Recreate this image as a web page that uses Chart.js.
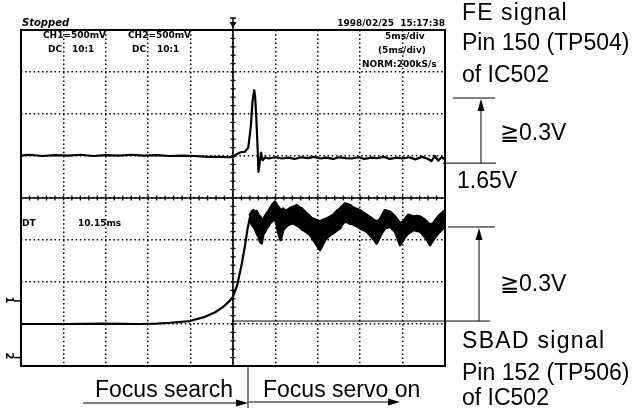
<!DOCTYPE html>
<html>
<head>
<meta charset="utf-8">
<script src="https://cdn.jsdelivr.net/npm/chart.js@4"></script>
<style>
  html, body { margin: 0; padding: 0; background: #fff; }
  #wrap { position: relative; width: 634px; height: 408px; overflow: hidden; }
  canvas { position: absolute; left: 0; top: 0; }
  .t { position: absolute; white-space: nowrap; line-height: 1; color: #000; }
  .big { font-family: "Liberation Sans", Arial, sans-serif; font-size: 23px; }
  .scope { font-family: "DejaVu Sans", sans-serif; font-weight: bold; font-size: 9px; }
  .ch { font-family: "DejaVu Sans", sans-serif; font-weight: bold; font-size: 10px; transform: rotate(90deg); }
</style>
</head>
<body>
<div id="wrap">
  <canvas id="scope" width="634" height="408"></canvas>

  <!-- scope header -->
  <div class="t scope" style="left:22px;top:18px;font-size:10px;font-style:italic;">Stopped</div>
  <div class="t scope" style="right:189px;top:19px;">1998/02/25&nbsp;&nbsp;15:17:38</div>
  <div class="t scope" style="left:43px;top:31px;">CH1=500mV</div>
  <div class="t scope" style="left:48px;top:45px;">DC</div>
  <div class="t scope" style="left:72px;top:45px;">10:1</div>
  <div class="t scope" style="left:128px;top:31px;">CH2=500mV</div>
  <div class="t scope" style="left:132px;top:45px;">DC</div>
  <div class="t scope" style="left:157px;top:45px;">10:1</div>
  <div class="t scope" style="left:385px;top:32px;">5ms/div</div>
  <div class="t scope" style="left:378px;top:46px;">(5ms/div)</div>
  <div class="t scope" style="left:362px;top:60px;">NORM:200kS/s</div>
  <div class="t scope" style="left:22px;top:219px;">DT</div>
  <div class="t scope" style="left:78px;top:219px;">10.15ms</div>
  <div class="t ch" style="left:6px;top:295px;">1</div>
  <div class="t ch" style="left:6px;top:351px;">2</div>

  <!-- right-hand annotations -->
  <div class="t big" style="left:462px;top:1px;letter-spacing:1.1px;">FE signal</div>
  <div class="t big" style="left:462px;top:31px;">Pin 150 (TP504)</div>
  <div class="t big" style="left:462px;top:63px;">of IC502</div>
  <div class="t big" style="left:500px;top:121px;">≧0.3V</div>
  <div class="t big" style="left:457px;top:169px;">1.65V</div>
  <div class="t big" style="left:500px;top:272px;">≧0.3V</div>
  <div class="t big" style="left:462px;top:329px;letter-spacing:1.3px;">SBAD signal</div>
  <div class="t big" style="left:462px;top:361px;">Pin 152 (TP506)</div>
  <div class="t big" style="left:462px;top:386px;">of IC502</div>

  <!-- bottom labels -->
  <div class="t big" style="left:95px;top:378px;">Focus search</div>
  <div class="t big" style="left:263px;top:378px;">Focus servo on</div>
</div>

<script>
// ── Scope settings: time in ms (5 ms/div), level in divisions ──
const timeRangeMs = [-25, 25];
const levelRangeDiv = [-4, 4];
const timeStepMs = 5;
const levelStepDiv = 1;

// ── CH1: FE signal ──
const feTimeMs = [
  -25, -24, -22.5, -21, -19.5, -18, -16.5, -15, -13.5, -12,
  -10.5, -9, -7.5, -6, -4.5, -3, -1.5, -0.5, 0, 0.4,
  0.9, 1.4, 1.8, 2.1, 2.3, 2.5, 2.6, 2.75, 2.9, 3.0,
  3.15, 3.3, 3.5, 3.8, 4.2, 5, 5.8, 6.5, 7.3, 8,
  8.8, 9.5, 10.3, 11, 11.8, 12.5, 13.3, 14, 14.8, 15.5,
  16.3, 17, 17.8, 18.5, 19.3, 20, 20.8, 21.5, 22.3, 23,
  23.4, 23.8, 24.2, 24.6, 25
];
const feLevelDiv = [
  1.01, 1.03, 1.00, 1.02, 1.01, 1.03, 1.00, 1.02, 1.01, 1.03,
  1.01, 1.02, 1.00, 1.01, 1.00, 0.98, 0.98, 0.97, 0.98, 1.04,
  1.09, 1.10, 1.20, 1.70, 2.30, 2.57, 2.45, 1.90, 1.20, 0.62,
  0.85, 1.08, 0.90, 0.97, 0.94, 0.97, 0.94, 0.96, 0.93, 0.97,
  0.95, 0.98, 0.94, 0.96, 0.93, 0.97, 0.95, 0.94, 0.97, 0.93,
  0.96, 0.95, 0.98, 0.93, 0.96, 0.94, 0.97, 0.92, 0.98, 0.93,
  0.88, 1.00, 0.89, 0.97, 0.92
];

// ── CH2: SBAD signal, slow rise before servo locks ──
const sbadRiseTimeMs = [-25, -20, -15, -11, -9, -7.4, -5.1, -3.3, -2.1, -1.2, -0.4, 0, 0.5, 1.0, 1.4, 1.7, 2.0, 2.3];
const sbadRiseLevelDiv = [-3.0, -3.0, -2.99, -3.0, -2.99, -2.97, -2.93, -2.83, -2.72, -2.6, -2.45, -2.35, -2.07, -1.6, -1.15, -0.75, -0.45, -0.32];

// ── CH2: noisy band after focus servo on (upper / lower envelope) ──
const sbadBandTimeMs = [
  2.0, 2.2, 2.4, 2.6, 2.79, 3.0, 3.18, 3.38, 3.58, 3.8,
  3.97, 4.2, 4.36, 4.65, 4.95, 5.15, 5.35, 5.62, 5.93, 6.2,
  6.52, 6.8, 7.11, 7.51, 7.8, 8.10, 8.4, 8.69, 9.0, 9.27,
  9.55, 9.86, 10.26, 10.65, 10.95, 11.24, 11.55, 11.83, 12.2, 12.62,
  12.9, 13.20, 13.5, 13.79, 14.1, 14.38, 14.7, 14.97, 15.35, 15.76,
  16.05, 16.35, 16.65, 16.94, 17.33, 17.6, 17.92, 18.2, 18.51, 18.8,
  19.10, 19.4, 19.69, 20.08, 20.4, 20.67, 21.0, 21.26, 21.65, 22.05,
  22.35, 22.64, 22.95, 23.23, 23.62, 23.9, 24.21, 24.5, 24.80, 25.0
];
const sbadBandUpperDiv = [
  -0.40, -0.33, -0.29, -0.34, -0.31, -0.40, -0.44, -0.50, -0.52, -0.42,
  -0.37, -0.30, -0.25, -0.15, -0.09, -0.16, -0.21, -0.29, -0.25, -0.31,
  -0.27, -0.23, -0.21, -0.17, -0.22, -0.25, -0.31, -0.37, -0.42, -0.48,
  -0.50, -0.53, -0.56, -0.52, -0.50, -0.47, -0.43, -0.40, -0.32, -0.25,
  -0.19, -0.13, -0.15, -0.17, -0.22, -0.25, -0.27, -0.29, -0.35, -0.40,
  -0.44, -0.48, -0.53, -0.56, -0.51, -0.40, -0.29, -0.31, -0.33, -0.38,
  -0.44, -0.52, -0.60, -0.56, -0.47, -0.40, -0.42, -0.44, -0.43, -0.44,
  -0.48, -0.52, -0.58, -0.64, -0.60, -0.52, -0.44, -0.38, -0.33, -0.29
];
const sbadBandLowerDiv = [
  -0.56, -0.62, -0.68, -0.74, -0.84, -0.92, -1.04, -1.08, -0.86, -0.80,
  -0.72, -0.66, -0.60, -0.55, -0.48, -0.66, -0.84, -1.00, -0.76, -0.70,
  -0.64, -0.62, -0.60, -0.65, -0.68, -0.74, -0.78, -0.82, -0.86, -0.93,
  -1.02, -1.12, -1.24, -1.08, -0.98, -0.92, -0.87, -0.84, -0.78, -0.72,
  -0.62, -0.56, -0.58, -0.61, -0.62, -0.65, -0.68, -0.72, -0.76, -0.80,
  -0.86, -0.93, -1.00, -1.08, -0.92, -0.82, -0.72, -0.70, -0.68, -0.74,
  -0.80, -0.95, -1.12, -1.00, -0.90, -0.84, -0.80, -0.76, -0.78, -0.80,
  -0.86, -0.93, -1.02, -1.12, -1.00, -0.92, -0.84, -0.78, -0.72, -0.68
];

// ── Annotation levels (div): FE ≥0.3V top, 1.65V, SBAD ≥0.3V top, SBAD base ──
const annotLevelsDiv = [2.38, 0.83, -0.69, -2.93];
const focusServoOnMs = 1.77;

const toPoints = (xs, ys) => xs.map((x, i) => ({ x, y: ys[i] }));

// ── Drawing helpers ──
function line(ctx, x1, y1, x2, y2) {
  ctx.beginPath();
  ctx.moveTo(x1, y1);
  ctx.lineTo(x2, y2);
  ctx.stroke();
}
function arrowHead(ctx, tipX, tipY, dir) {
  // dir: 'up' or 'right'
  ctx.beginPath();
  if (dir === 'up') {
    ctx.moveTo(tipX, tipY);
    ctx.lineTo(tipX - 3.5, tipY + 12);
    ctx.lineTo(tipX + 3.5, tipY + 12);
  } else {
    ctx.moveTo(tipX, tipY);
    ctx.lineTo(tipX - 12, tipY - 3.5);
    ctx.lineTo(tipX - 12, tipY + 3.5);
  }
  ctx.closePath();
  ctx.fill();
}

const scopeDecor = {
  id: 'scopeDecor',
  afterDraw(chart) {
    const { ctx, chartArea: a, scales: { x, y } } = chart;
    ctx.save();
    ctx.strokeStyle = '#000';
    ctx.fillStyle = '#000';

    // center graticule with minor ticks (1/5 div)
    const x0 = x.getPixelForValue(0);
    const y0 = y.getPixelForValue(0);
    ctx.lineWidth = 1.6;
    line(ctx, x0, a.top, x0, a.bottom);
    line(ctx, a.left, y0, a.right, y0);
    ctx.lineWidth = 1.3;
    for (let t = timeRangeMs[0]; t <= timeRangeMs[1]; t += 1) {
      const px = x.getPixelForValue(t);
      line(ctx, px, y0 - 2.5, px, y0 + 2.5);
    }
    for (let k = 0; k <= 40; k++) {
      const py = y.getPixelForValue(levelRangeDiv[0] + k * 0.2);
      line(ctx, x0 - 2.5, py, x0 + 2.5, py);
    }

    // frame
    ctx.lineWidth = 2;
    ctx.strokeRect(a.left, a.top, a.right - a.left, a.bottom - a.top);

    // trigger marker
    ctx.lineWidth = 1.5;
    line(ctx, x0, a.top - 12, x0, a.top);
    line(ctx, x0 - 3, a.top - 12, x0 + 3, a.top - 12);
    ctx.beginPath();
    ctx.moveTo(x0 - 3.5, a.top - 8);
    ctx.lineTo(x0 + 3.5, a.top - 8);
    ctx.lineTo(x0, a.top - 2);
    ctx.closePath();
    ctx.fill();

    // channel markers
    ctx.lineWidth = 1.5;
    [y.getPixelForValue(-2.45), y.getPixelForValue(-3.8)].forEach(py => {
      line(ctx, 14, py, a.left - 1, py);
    });

    // right-hand level lines and arrows
    const ly = annotLevelsDiv.map(v => y.getPixelForValue(v));
    ctx.lineWidth = 1;
    line(ctx, 453, ly[0], 495, ly[0]);
    line(ctx, 443, ly[1], 496, ly[1]);
    line(ctx, 448, ly[2], 495, ly[2]);
    line(ctx, x0, ly[3], 490, ly[3]);
    line(ctx, 481, ly[1], 481, ly[0] + 6);
    arrowHead(ctx, 481, ly[0] + 1, 'up');
    line(ctx, 479, ly[3], 479, ly[2] + 6);
    arrowHead(ctx, 479, ly[2] + 1, 'up');

    // focus search / servo on arrows
    const xs = x.getPixelForValue(focusServoOnMs);
    line(ctx, xs, a.bottom, xs, 408);
    line(ctx, 83, 403, xs - 6, 403);
    arrowHead(ctx, xs, 403, 'right');
    line(ctx, xs + 1, 402, 394, 402);
    arrowHead(ctx, 400, 402, 'right');

    ctx.restore();
  }
};

const traceStyle = {
  borderColor: '#000',
  borderWidth: 2.2,
  pointRadius: 0,
  tension: 0,
  borderJoinStyle: 'round',
  borderCapStyle: 'round',
  fill: false,
};

new Chart(document.getElementById('scope'), {
  type: 'line',
  data: {
    datasets: [
      { ...traceStyle, label: 'FE', data: toPoints(feTimeMs, feLevelDiv) },
      { ...traceStyle, label: 'SBAD rise', data: toPoints(sbadRiseTimeMs, sbadRiseLevelDiv) },
      { ...traceStyle, borderWidth: 2.6, label: 'SBAD upper', data: toPoints(sbadBandTimeMs, sbadBandUpperDiv) },
      { ...traceStyle, borderWidth: 2.6, label: 'SBAD lower', data: toPoints(sbadBandTimeMs, sbadBandLowerDiv),
        fill: '-1', backgroundColor: '#000' },
    ],
  },
  options: {
    responsive: false,
    animation: false,
    events: [],
    layout: { padding: { left: 21, top: 30, right: 189, bottom: 42 } },
    plugins: { legend: { display: false }, tooltip: { enabled: false } },
    scales: {
      x: {
        type: 'linear',
        min: timeRangeMs[0], max: timeRangeMs[1],
        ticks: { display: false, stepSize: timeStepMs },
        grid: { color: '#000', lineWidth: 1.5, drawTicks: false },
        border: { display: false, dash: [1.5, 2.7] },
      },
      y: {
        min: levelRangeDiv[0], max: levelRangeDiv[1],
        ticks: { display: false, stepSize: levelStepDiv },
        grid: { color: '#000', lineWidth: 1.5, drawTicks: false },
        border: { display: false, dash: [1.5, 2.7] },
      },
    },
  },
  plugins: [scopeDecor],
});
</script>
</body>
</html>
